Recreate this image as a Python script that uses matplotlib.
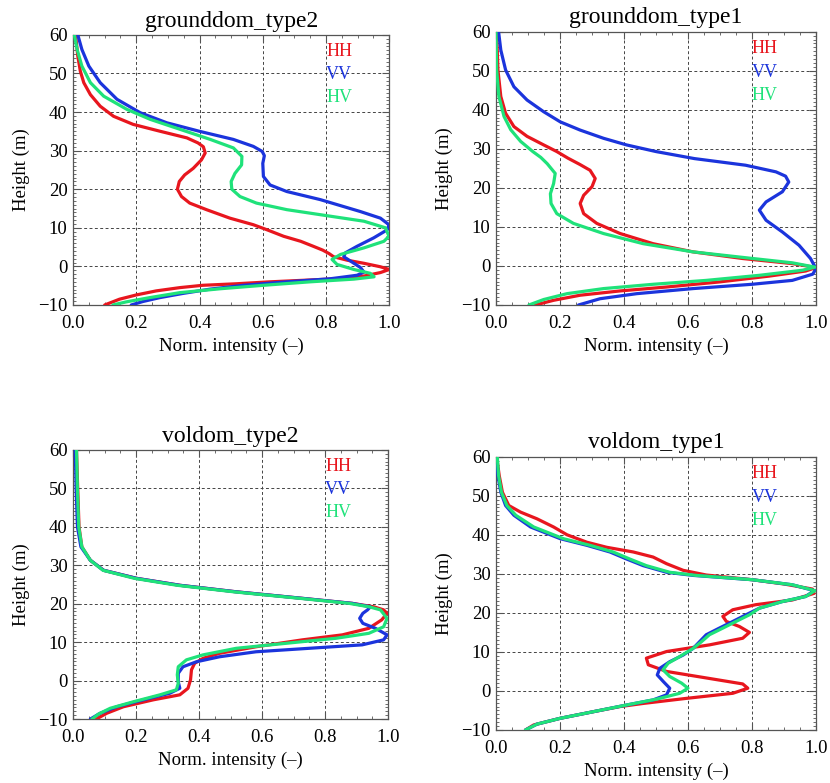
import matplotlib
matplotlib.use("Agg")
import matplotlib.pyplot as plt
from matplotlib.ticker import MultipleLocator, FormatStrFormatter

plt.rcParams['font.family'] = ['Liberation Serif', 'DejaVu Serif']

# Normalised intensity profiles vs. height for each scattering scenario.
# Every curve has its own height samples (m) and intensity values (-).

# grounddom_type2
gd2_hh_h = [-10, -8.5, -7.4, -6.35, -5.5, -4.9, -4.5, -4.0, -3.6, -3.2, -2.5, -1.6, -0.8, -0.1,
            0.8, 1.6, 2.5, 3.3, 4.2, 5.2, 6.5, 7.8, 9.5, 10.8, 12.5, 14.7, 16.4, 18.1, 20, 22,
            23.7, 25.4, 27.6, 29.4, 31, 32, 33.3, 35, 36.8, 38.9, 41.5, 44.5, 47.6, 50.6, 54.5, 60]
gd2_hh_x = [0.10, 0.147, 0.20, 0.263, 0.338, 0.41, 0.517, 0.623, 0.729, 0.835, 0.92, 0.972, 1.0,
            0.972, 0.92, 0.867, 0.824, 0.81, 0.79, 0.76, 0.72, 0.666, 0.613, 0.57, 0.496, 0.422,
            0.369, 0.343, 0.33, 0.336, 0.353, 0.38, 0.406, 0.418, 0.412, 0.395, 0.36, 0.276, 0.19,
            0.128, 0.086, 0.055, 0.034, 0.023, 0.015, 0.008]
gd2_vv_h = [-10, -9.1, -8.1, -7.0, -5.9, -4.9, -4.0, -3.2, -2.3, -1.5, -0.3, 1.4, 2.5, 3.5, 5.2,
            7.4, 9.5, 10.8, 12.5, 14.2, 17.3, 19.4, 21.1, 23.3, 26.7, 28.7, 29.8, 31.1, 32.9, 35.0,
            37.2, 39.8, 43.3, 47.6, 51.9, 56.2, 60]
gd2_vv_x = [0.184, 0.221, 0.274, 0.348, 0.433, 0.539, 0.676, 0.814, 0.898, 0.92, 0.909, 0.877,
            0.856, 0.861, 0.898, 0.951, 0.994, 0.999, 0.972, 0.909, 0.782, 0.676, 0.623, 0.602,
            0.60, 0.605, 0.598, 0.57, 0.507, 0.40, 0.297, 0.213, 0.139, 0.086, 0.05, 0.028, 0.015]
gd2_hv_h = [-10, -9.2, -8.1, -6.8, -5.8, -4.9, -4.0, -3.3, -2.7, -1.8, -0.8, 0.5, 1.8, 3.1, 4.8,
            6.5, 7.8, 10.0, 11.7, 13.0, 14.7, 16.4, 18.1, 20.0, 22.0, 24.1, 26.3, 28.5, 30.7,
            32.9, 35.5, 38.1, 40.7, 44.1, 47.6, 51.9, 56.2, 60]
gd2_hv_x = [0.126, 0.168, 0.242, 0.338, 0.465, 0.602, 0.75, 0.888, 0.952, 0.94, 0.888, 0.835,
            0.819, 0.846, 0.92, 0.983, 0.999, 0.988, 0.92, 0.814, 0.676, 0.58, 0.528, 0.502,
            0.50, 0.512, 0.533, 0.534, 0.507, 0.434, 0.339, 0.244, 0.17, 0.097, 0.055, 0.028,
            0.013, 0.004]

# grounddom_type1
gd1_hh_h = [-10, -8.8, -7.5, -6.4, -5.4, -4.1, -2.6, -1.3, -0.4, 0.6, 1.9, 3.6, 5.7, 8.3, 10.9,
            13.4, 16.0, 18.1, 20.3, 22.4, 24.5, 26.0, 27.6, 29.3, 31.0, 33.2, 35.7, 39.1, 43.4,
            50.2, 55, 60]
gd1_hh_x = [0.123, 0.18, 0.263, 0.388, 0.533, 0.698, 0.854, 0.968, 1.0, 0.926, 0.771, 0.616,
            0.491, 0.388, 0.315, 0.274, 0.263, 0.274, 0.30, 0.31, 0.294, 0.262, 0.225, 0.19,
            0.149, 0.097, 0.056, 0.03, 0.015, 0.006, 0.004, 0.002]
gd1_vv_h = [-10, -8.4, -7.1, -5.8, -4.7, -3.7, -2.1, -0.7, 1.9, 5.3, 8.7, 11.7, 14.3, 16.4, 19.0,
            21.5, 23.0, 24.1, 25.8, 27.5, 29.3, 31.0, 32.7, 34.8, 36.9, 39.5, 42.5, 45.9, 50.2,
            55.3, 60]
gd1_vv_x = [0.258, 0.325, 0.44, 0.616, 0.80, 0.926, 0.99, 1.0, 0.983, 0.947, 0.895, 0.844, 0.823,
            0.844, 0.895, 0.915, 0.905, 0.875, 0.78, 0.62, 0.50, 0.408, 0.336, 0.263, 0.201,
            0.149, 0.097, 0.056, 0.03, 0.015, 0.008]
gd1_hv_h = [-10, -8.6, -7.1, -5.8, -4.7, -3.7, -2.4, -1.1, -0.3, 0.8, 2.1, 3.6, 5.7, 8.3, 10.9,
            13.4, 16.0, 18.5, 21.1, 23.7, 26.2, 27.8, 29.3, 31.9, 34.9, 38.3, 43.4, 50.2, 60]
gd1_hv_x = [0.103, 0.149, 0.222, 0.336, 0.491, 0.657, 0.823, 0.958, 0.997, 0.926, 0.781, 0.616,
            0.46, 0.336, 0.242, 0.19, 0.172, 0.17, 0.18, 0.185, 0.16, 0.14, 0.115, 0.077, 0.046,
            0.025, 0.009, 0.002, 0.0]

# voldom_type2
vd2_hh_h = [-10, -8.5, -6.8, -5.0, -3.7, -2.0, 0.2, 2.8, 4.5, 5.8, 7.1, 8.8, 10.6, 11.9, 13.6,
            15.8, 17.5, 18.4, 19.2, 20.1, 21.4, 23.1, 24.8, 26.6, 28.7, 31.3, 34.8, 40, 49.5, 60]
vd2_hh_x = [0.074, 0.107, 0.16, 0.255, 0.339, 0.365, 0.373, 0.376, 0.386, 0.413, 0.465, 0.581,
            0.728, 0.855, 0.939, 0.98, 0.997, 0.986, 0.955, 0.886, 0.728, 0.518, 0.339, 0.202,
            0.097, 0.055, 0.028, 0.019, 0.015, 0.011]
vd2_vv_h = [-10, -8.5, -6.8, -5.0, -3.3, -2.0, -0.3, 1.9, 3.6, 4.9, 6.2, 7.5, 8.4, 9.3, 10.6,
            11.9, 13.6, 14.9, 16.2, 17.5, 18.4, 19.2, 20.1, 21.4, 23.1, 24.8, 26.6, 28.7, 31.3,
            34.8, 40, 49.5, 60]
vd2_vv_x = [0.055, 0.086, 0.139, 0.223, 0.307, 0.339, 0.334, 0.334, 0.349, 0.392, 0.465, 0.581,
            0.749, 0.918, 0.986, 0.997, 0.96, 0.92, 0.91, 0.92, 0.935, 0.944, 0.886, 0.728, 0.518,
            0.339, 0.202, 0.097, 0.055, 0.025, 0.014, 0.01, 0.007]
vd2_hv_h = [-10, -8.7, -7.2, -5.5, -3.7, -2.4, -0.7, 1.5, 3.6, 5.4, 6.7, 8.4, 9.7, 11.0, 12.3,
            14.0, 16.2, 18.4, 19.2, 20.1, 21.4, 23.1, 24.8, 26.6, 28.7, 31.3, 34.8, 40, 49.5, 60]
vd2_hv_x = [0.06, 0.081, 0.118, 0.192, 0.276, 0.328, 0.334, 0.331, 0.334, 0.36, 0.413, 0.518,
            0.676, 0.834, 0.939, 0.986, 0.997, 0.976, 0.94, 0.876, 0.72, 0.51, 0.33, 0.195,
            0.095, 0.055, 0.028, 0.018, 0.014, 0.011]

# voldom_type1
vd1_hh_h = [-10, -8.7, -7.0, -5.3, -4.0, -3.2, -1.9, -0.6, 0.7, 1.8, 3.2, 5.0, 6.7, 8.4, 10.1,
            11.8, 13.5, 15.0, 16.5, 17.8, 19.1, 20.8, 22.1, 23.3, 25.0, 26.1, 27.4, 28.5, 29.7,
            30.9, 32.6, 34.3, 35.6, 36.8, 38.1, 40.0, 42.0, 44.1, 45.8, 47.5, 50.9, 55.2, 60]
vd1_hh_x = [0.092, 0.118, 0.201, 0.305, 0.388, 0.46, 0.595, 0.74, 0.787, 0.771, 0.667, 0.533,
            0.476, 0.47, 0.533, 0.667, 0.771, 0.792, 0.761, 0.72, 0.709, 0.74, 0.812, 0.926,
            0.994, 0.989, 0.9, 0.80, 0.657, 0.585, 0.533, 0.491, 0.429, 0.346, 0.284, 0.222,
            0.18, 0.128, 0.077, 0.04, 0.02, 0.01, 0.002]
vd1_vv_h = [-10, -8.5, -7.0, -5.3, -3.6, -2.3, -1.0, 0.7, 2.4, 4.1, 5.8, 7.5, 9.2, 10.9, 12.6,
            14.4, 16.1, 17.8, 19.5, 21.2, 22.9, 24.2, 25.7, 27.2, 28.5, 29.6, 30.4, 32.1, 33.8,
            35.6, 37.3, 39.0, 42.0, 45.0, 47.5, 50.9, 55.2, 60]
vd1_vv_x = [0.092, 0.128, 0.201, 0.305, 0.408, 0.491, 0.533, 0.543, 0.523, 0.504, 0.512, 0.543,
            0.585, 0.616, 0.636, 0.657, 0.698, 0.74, 0.781, 0.823, 0.895, 0.968, 0.994, 0.926,
            0.80, 0.616, 0.533, 0.46, 0.408, 0.356, 0.284, 0.201, 0.108, 0.056, 0.03, 0.015,
            0.006, 0.002]
vd1_hv_h = [-10, -8.5, -7.0, -5.3, -3.6, -2.1, -0.6, 0.7, 2.0, 3.7, 5.4, 7.1, 8.8, 10.9, 12.6,
            14.4, 16.1, 17.8, 19.5, 21.2, 22.9, 24.2, 25.7, 27.2, 28.5, 29.6, 30.4, 32.1, 33.8,
            35.6, 37.3, 39.0, 42.0, 45.0, 47.5, 50.9, 55.2, 60]
vd1_hv_x = [0.092, 0.128, 0.201, 0.305, 0.408, 0.502, 0.574, 0.6, 0.58, 0.543, 0.522, 0.538,
            0.574, 0.616, 0.642, 0.667, 0.709, 0.75, 0.792, 0.823, 0.895, 0.968, 0.997, 0.926,
            0.80, 0.625, 0.543, 0.47, 0.418, 0.366, 0.294, 0.211, 0.118, 0.062, 0.034, 0.017,
            0.008, 0.004]

pol_labels = ["HH", "VV", "HV"]
pol_colors = ["#e8161e", "#1b34dc", "#1fe27a"]

panels = [
    ("grounddom_type2", [0.088, 0.6105, 0.381, 0.345],
     [(gd2_hh_x, gd2_hh_h), (gd2_vv_x, gd2_vv_h), (gd2_hv_x, gd2_hv_h)]),
    ("grounddom_type1", [0.5976, 0.6105, 0.3855, 0.349],
     [(gd1_hh_x, gd1_hh_h), (gd1_vv_x, gd1_vv_h), (gd1_hv_x, gd1_hv_h)]),
    ("voldom_type2", [0.088, 0.0817, 0.3795, 0.3436],
     [(vd2_hh_x, vd2_hh_h), (vd2_vv_x, vd2_vv_h), (vd2_hv_x, vd2_hv_h)]),
    ("voldom_type1", [0.5976, 0.0677, 0.3855, 0.349],
     [(vd1_hh_x, vd1_hh_h), (vd1_vv_x, vd1_vv_h), (vd1_hv_x, vd1_hv_h)]),
]

fig = plt.figure(figsize=(8.3, 7.83), dpi=100)

for title, pos, curves in panels:
    ax = fig.add_axes(pos)
    for (xv, hv), color in zip(curves, pol_colors):
        ax.plot(xv, hv, color=color, lw=2.3, zorder=3,
                solid_joinstyle="round", solid_capstyle="round")

    ax.set_xlim(0, 1)
    ax.set_ylim(-10, 60)
    ax.xaxis.set_major_locator(MultipleLocator(0.2))
    ax.xaxis.set_minor_locator(MultipleLocator(0.05))
    ax.xaxis.set_major_formatter(FormatStrFormatter("%.1f"))
    ax.yaxis.set_major_locator(MultipleLocator(10))
    ax.yaxis.set_minor_locator(MultipleLocator(1))
    ax.tick_params(which="both", direction="in", top=True, right=True,
                   color="#555555", labelsize=13.5)
    ax.tick_params(which="major", length=5, width=0.8)
    ax.tick_params(which="minor", length=2.5, width=0.6)
    ax.tick_params(axis="x", pad=7)
    ax.tick_params(axis="y", pad=4)
    for sp in ax.spines.values():
        sp.set_color("#555555")
        sp.set_linewidth(0.9)

    ax.grid(True, which="major", color="#444444", lw=0.7, ls=(0, (3, 2.5)), zorder=1)

    ax.set_title(title, fontsize=17, pad=6)
    ax.set_xlabel("Norm. intensity (\u2013)", fontsize=13.5, labelpad=4)
    ax.set_ylabel("Height (m)", fontsize=13.5, labelpad=6)

    for label, color, ty in zip(pol_labels, pol_colors, [0.937, 0.852, 0.767]):
        ax.text(0.80, ty, label, color=color, fontsize=13, ha="left", va="center",
                transform=ax.transAxes)

fig.savefig("out.png", dpi=100, facecolor="white")
